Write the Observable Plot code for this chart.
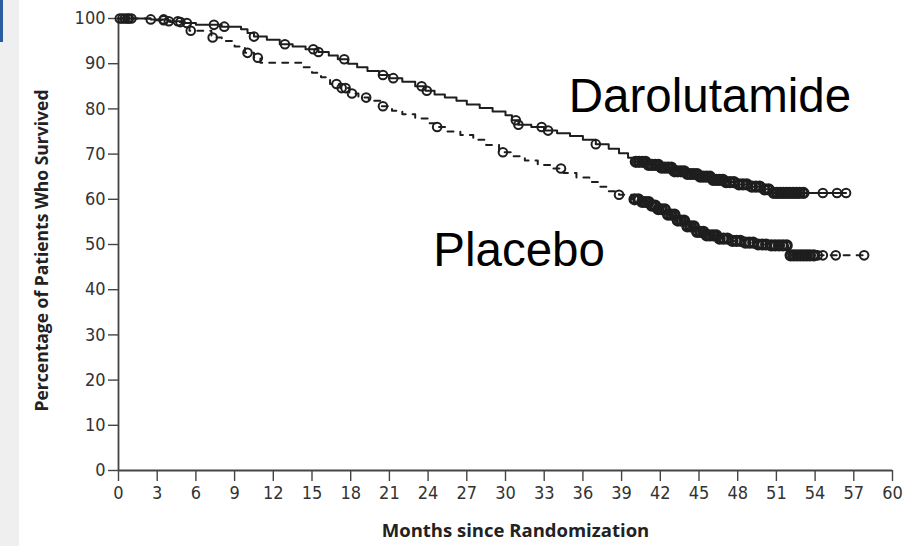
<!DOCTYPE html>
<html><head><meta charset="utf-8">
<script src="https://cdn.jsdelivr.net/npm/d3@7"></script>
<script src="https://cdn.jsdelivr.net/npm/@observablehq/plot@0.6"></script>
<style>
html,body{margin:0;padding:0;background:#fff;}
#wrap{position:relative;width:907px;height:546px;overflow:hidden;}
#strip{position:absolute;left:0;top:0;width:19px;height:546px;background:#efefef;}
#strip .b{position:absolute;left:0;top:0;width:3px;height:42px;background:#2a5d9f;}
</style></head><body><div id="wrap"><div id="strip"><div class="b"></div></div></div>
<script>
// Kaplan-Meier step curves: [month, percent surviving]
const darolutamideCurve = [[0,100],[2.5,99.8],[3.8,99.4],[5,99.0],[6,98.6],[8,98.2],[9.5,97.6],[10,96.8],[10.5,96.0],[11.5,95.3],[12.5,94.3],[13.5,93.8],[14.5,93.2],[15.5,92.6],[16.3,91.8],[17,91.0],[17.8,90.0],[18.5,89.2],[19.3,88.4],[20.2,87.5],[21,86.8],[22,86.0],[23,85.0],[23.8,84.0],[24.5,83.2],[25.3,82.5],[26.2,81.8],[27,81.0],[28,80.2],[29,79.4],[30,78.6],[30.5,77.5],[31,76.5],[32,76.0],[33,75.2],[34,74.6],[35,74.0],[36,73.2],[37,72.2],[38,71.2],[38.8,70.2],[39.5,69.2],[40,68.3],[41,67.6],[42,67.0],[43,66.2],[44,65.6],[45,65.0],[46,64.3],[47,63.8],[48,63.3],[49,62.8],[50,62.2],[50.7,61.4],[56.4,61.4]];
const placeboCurve = [[0,100],[2.8,99.6],[4,99.2],[5,98.6],[5.5,97.3],[7.2,95.8],[8,95.0],[9,93.8],[9.8,92.4],[10.5,91.3],[11,90.2],[14.3,89.2],[15.0,88.0],[15.7,87.0],[16.4,85.5],[17.2,84.6],[17.9,83.4],[18.6,82.5],[19.4,81.8],[20.3,80.6],[21.2,79.6],[22,78.8],[23,77.9],[24,76.8],[24.6,76.0],[25.5,75.0],[26.5,74.2],[27.5,73.2],[28.5,72.0],[29.5,70.4],[30.5,69.5],[31.5,68.6],[32.5,67.6],[33.5,66.8],[34.5,65.8],[35.5,64.8],[36.5,63.8],[37.2,62.8],[38,61.8],[38.8,61.0],[39.8,60.0],[40.6,59.4],[41.2,58.6],[41.8,57.8],[42.5,56.6],[43.2,55.3],[44,54.0],[44.8,52.8],[45.5,52.0],[46.5,51.3],[47.5,50.8],[48.5,50.4],[49.5,50.0],[50.5,49.8],[51.9,47.6],[58,47.6]];

// Censoring marks, sparse stretches: [month, percent]
const darolutamideCensored = [[0.1,100],[0.5,100],[0.7,100],[1.0,100],[2.5,99.8],[3.5,99.8],[3.9,99.4],[4.6,99.4],[5.3,99.0],[7.4,98.6],[8.2,98.2],[10.5,96.0],[12.9,94.3],[15.1,93.2],[15.5,92.6],[17.5,91.0],[20.5,87.5],[21.3,86.8],[23.5,85.0],[23.9,84.0],[30.8,77.5],[31.0,76.5],[32.8,76.0],[33.3,75.2],[37.0,72.2],[54.6,61.4],[55.7,61.4],[56.4,61.4]];
const placeboCensored = [[0.3,100],[0.8,100],[3.5,99.6],[4.8,99.2],[5.6,97.3],[7.3,95.8],[10.0,92.4],[10.8,91.3],[16.9,85.5],[17.3,84.6],[17.6,84.6],[18.1,83.4],[19.2,82.5],[20.5,80.6],[24.7,76.0],[29.8,70.4],[34.3,66.8],[38.8,61.0],[54.2,47.6],[54.6,47.6],[55.6,47.6],[57.8,47.6]];

// Censoring marks, crowded stretch (months 40-54)
const darolutamideCensoredDense = [[40.1,68.3],[40.35,68.3],[40.6,68.3],[40.85,68.3],[41.1,67.6],[41.35,67.6],[41.6,67.6],[41.85,67.6],[42.1,67.0],[42.35,67.0],[42.6,67.0],[42.85,67.0],[43.1,66.2],[43.35,66.2],[43.6,66.2],[43.85,66.2],[44.1,65.6],[44.35,65.6],[44.6,65.6],[44.85,65.6],[45.1,65.0],[45.35,65.0],[45.6,65.0],[45.85,65.0],[46.1,64.3],[46.35,64.3],[46.6,64.3],[46.85,64.3],[47.1,63.8],[47.4,63.8],[47.7,63.8],[48.1,63.3],[48.4,63.3],[48.7,63.3],[49.1,62.8],[49.4,62.8],[49.7,62.8],[50.1,62.2],[50.4,62.2],[50.8,61.4],[51.05,61.4],[51.3,61.4],[51.55,61.4],[51.8,61.4],[52.05,61.4],[52.3,61.4],[52.55,61.4],[52.8,61.4],[53.1,61.4]];
const placeboCensoredDense = [[40.0,60.0],[40.3,60.0],[40.6,59.4],[40.85,59.4],[41.1,59.4],[41.35,58.6],[41.6,58.6],[41.85,57.8],[42.1,57.8],[42.35,57.8],[42.6,56.6],[42.85,56.6],[43.1,56.6],[43.35,55.3],[43.6,55.3],[43.85,55.3],[44.1,54.0],[44.35,54.0],[44.6,54.0],[44.85,52.8],[45.1,52.8],[45.35,52.8],[45.6,52.0],[45.85,52.0],[46.1,52.0],[46.35,52.0],[46.6,51.3],[46.9,51.3],[47.2,51.3],[47.6,50.8],[47.9,50.8],[48.2,50.8],[48.6,50.4],[48.9,50.4],[49.2,50.4],[49.6,50.0],[49.9,50.0],[50.2,50.0],[50.6,49.8],[50.9,49.8],[51.2,49.8],[51.5,49.8],[51.8,49.8],[52.1,47.6],[52.35,47.6],[52.6,47.6],[52.85,47.6],[53.1,47.6],[53.35,47.6],[53.6,47.6],[53.9,47.6]];

const xTicks = [0,3,6,9,12,15,18,21,24,27,30,33,36,39,42,45,48,51,54,57,60];
const yTicks = [0,10,20,30,40,50,60,70,80,90,100];
const xTitle = "Months since Randomization";
const yTitle = "Percentage of Patients Who Survived";
const seriesLabels = [{text:"Darolutamide", x:34.9, y:82.7}, {text:"Placebo", x:24.4, y:48.7}];

const toRows = arr => arr.map(([t, s]) => ({t, s}));
const ink = "#1e1e1e";
const titleFont = "'Open Sans','Noto Sans',sans-serif";

const chart = Plot.plot({
  width: 907, height: 546,
  marginLeft: 118, marginRight: 15, marginTop: 18, marginBottom: 76,
  style: {fontFamily: "'Liberation Sans Narrow','DejaVu Sans Condensed',sans-serif", fontSize: "18px", color: "#333", background: "transparent", overflow: "visible"},
  x: {domain: [0, 60]},
  y: {domain: [0, 100]},
  marks: [
    Plot.axisX({ticks: xTicks, tickSize: 11, tickPadding: 5, tickFormat: d => String(d), stroke: "#444", strokeWidth: 1.4, label: null}),
    Plot.axisY({ticks: yTicks, tickSize: 10, tickPadding: 3, tickFormat: d => String(d), stroke: "#444", strokeWidth: 1.4, label: null}),
    Plot.text([xTitle], {frameAnchor: "bottom", dx: 10, dy: 66, text: d => d, fontFamily: titleFont, fontWeight: 700, fontSize: 18.5, fill: "#222"}),
    Plot.text([yTitle], {frameAnchor: "middle", dx: 42 - 505, dy: 6, rotate: -90, text: d => d, fontFamily: titleFont, fontWeight: 700, fontSize: 17.5, fill: "#222"}),
    Plot.ruleX([0], {stroke: "#444", strokeWidth: 1.8}),
    Plot.ruleY([0], {stroke: "#444", strokeWidth: 1.8}),
    Plot.line(toRows(placeboCurve), {x: "t", y: "s", curve: "step-after", stroke: ink, strokeWidth: 2, strokeDasharray: "6,7"}),
    Plot.line(toRows(darolutamideCurve), {x: "t", y: "s", curve: "step-after", stroke: ink, strokeWidth: 2}),
    Plot.dot(toRows(placeboCensored), {x: "t", y: "s", r: 4.3, stroke: ink, strokeWidth: 2, fill: "none"}),
    Plot.dot(toRows(darolutamideCensored), {x: "t", y: "s", r: 4.3, stroke: ink, strokeWidth: 2, fill: "none"}),
    Plot.dot(toRows(placeboCensoredDense), {x: "t", y: "s", r: 4.5, stroke: ink, strokeWidth: 3.2, fill: "none"}),
    Plot.dot(toRows(darolutamideCensoredDense), {x: "t", y: "s", r: 4.5, stroke: ink, strokeWidth: 3.2, fill: "none"}),
    Plot.text(seriesLabels, {x: "x", y: "y", text: "text", textAnchor: "start", fontSize: 47.5, fontFamily: "'Liberation Sans',Arial,sans-serif", fill: "#000"})
  ]
});
document.getElementById("wrap").appendChild(chart);
</script></body></html>
